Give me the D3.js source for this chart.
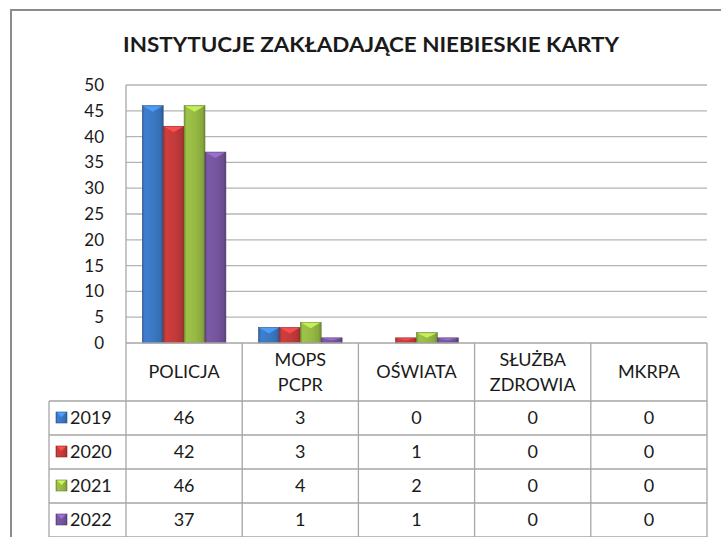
<!DOCTYPE html>
<html>
<head>
<meta charset="utf-8">
<script src="https://cdn.jsdelivr.net/npm/d3@7"></script>
<style>
  body { margin: 0; background: #fff; }
  svg { display: block; }
  text { font-family: Lato, "Open Sans", sans-serif; fill: #1a1a1a; }
</style>
</head>
<body>
<div id="chart"></div>
<script>
// data
const title = "INSTYTUCJE ZAKŁADAJĄCE NIEBIESKIE KARTY";
const categories = ["POLICJA", "MOPS\nPCPR", "OŚWIATA", "SŁUŻBA\nZDROWIA", "MKRPA"];
const years = ["2019", "2020", "2021", "2022"];
const v2019 = [46, 3, 0, 0, 0];
const v2020 = [42, 3, 1, 0, 0];
const v2021 = [46, 4, 2, 0, 0];
const v2022 = [37, 1, 1, 0, 0];
const yTicks = [0, 5, 10, 15, 20, 25, 30, 35, 40, 45, 50];

const series = [v2019, v2020, v2021, v2022];
const colors = ["#3b78c3", "#c33b3a", "#97b944", "#76559e"];

const width = 721, height = 537;
const plot = {left: 126, right: 707, top: 85, bottom: 343};
const tableLeft = 49;
const headerH = 58, rowH = 34;

let svg = d3.select("#chart")
    .append("svg")
    .attr("width", width)
    .attr("height", height);

// gradients for the bevelled bars
let defs = svg.append("defs");
colors.forEach(function(c, i) {
    let base = d3.color(c);
    let g = defs.append("linearGradient").attr("id", "grad" + i)
        .attr("x1", 0).attr("x2", 1).attr("y1", 0).attr("y2", 0);
    g.append("stop").attr("offset", "0%").attr("stop-color", base.darker(0.6));
    g.append("stop").attr("offset", "12%").attr("stop-color", base.brighter(0.15));
    g.append("stop").attr("offset", "55%").attr("stop-color", base);
    g.append("stop").attr("offset", "88%").attr("stop-color", base.darker(0.3));
    g.append("stop").attr("offset", "100%").attr("stop-color", base.darker(0.9));
});

// outer frame
svg.append("path")
    .attr("d", `M11,${height} L11,10 L${width},10`)
    .attr("fill", "none")
    .attr("stroke", "#8c8c8c")
    .attr("stroke-width", 2);

svg.append("text")
    .attr("x", 371)
    .attr("y", 52)
    .attr("text-anchor", "middle")
    .attr("textLength", 496)
    .attr("lengthAdjust", "spacingAndGlyphs")
    .style("font-size", "21px")
    .style("font-weight", "bold")
    .text(title);

let x = d3.scaleBand()
    .domain(categories)
    .range([plot.left, plot.right]);

let xYear = d3.scaleBand()
    .domain(years)
    .range([0, x.bandwidth()])
    .paddingInner(0)
    .paddingOuter(0.78);

let y = d3.scaleLinear()
    .domain([0, 50])
    .range([plot.bottom, plot.top]);

// gridlines
svg.append("g").selectAll("line")
    .data(yTicks.filter(function(d) { return d > 0; }))
    .join("line")
    .attr("x1", plot.left).attr("x2", plot.right)
    .attr("y1", function(d) { return y(d); })
    .attr("y2", function(d) { return y(d); })
    .attr("stroke", "#b4b4b4")
    .attr("stroke-width", 1.3);

// y labels
svg.append("g").selectAll("text")
    .data(yTicks)
    .join("text")
    .attr("x", 104)
    .attr("y", function(d) { return y(d) + 6; })
    .attr("text-anchor", "end")
    .style("font-size", "17px")
    .text(function(d) { return d; });

// bars
let barData = [];
series.forEach(function(vals, si) {
    vals.forEach(function(v, ci) {
        if (v > 0) barData.push({cat: categories[ci], year: years[si], value: v, s: si});
    });
});

let bars = svg.append("g").selectAll("g")
    .data(barData)
    .join("g");

bars.append("rect")
    .attr("x", function(d) { return x(d.cat) + xYear(d.year); })
    .attr("y", function(d) { return y(d.value); })
    .attr("width", xYear.bandwidth())
    .attr("height", function(d) { return y(0) - y(d.value); })
    .attr("fill", function(d) { return "url(#grad" + d.s + ")"; })
    .attr("stroke", function(d) { return d3.color(colors[d.s]).darker(1); })
    .attr("stroke-width", 0.6);

// light chevron on top of each bar
bars.append("path")
    .attr("d", function(d) {
        let x0 = x(d.cat) + xYear(d.year), w = xYear.bandwidth();
        let y0 = y(d.value);
        let h = Math.min(6, (y(0) - y0) / 2);
        return `M${x0 + 1},${y0 + 0.5} L${x0 + w - 1},${y0 + 0.5} L${x0 + w / 2},${y0 + h} Z`;
    })
    .attr("fill", function(d) { return d3.color(colors[d.s]).brighter(0.8); })
    .attr("opacity", 0.9);

// axis line
svg.append("line")
    .attr("x1", plot.left).attr("x2", plot.right)
    .attr("y1", plot.bottom).attr("y2", plot.bottom)
    .attr("stroke", "#a6a6a6").attr("stroke-width", 1.3);

// data table
let table = svg.append("g");
let tableBottom = plot.bottom + headerH + rowH * years.length;
let lineColor = "#a6a6a6";

// vertical lines
let colEdges = categories.map(function(c) { return x(c); }).concat([plot.right]);
table.selectAll("line.v")
    .data(colEdges)
    .join("line")
    .attr("class", "v")
    .attr("x1", function(d) { return d; }).attr("x2", function(d) { return d; })
    .attr("y1", function(d, i) { return i === 0 ? plot.top : plot.bottom; })
    .attr("y2", tableBottom + 2)
    .attr("stroke", lineColor).attr("stroke-width", 1.3);

table.append("line")
    .attr("x1", tableLeft).attr("x2", tableLeft)
    .attr("y1", plot.bottom + headerH).attr("y2", tableBottom + 2)
    .attr("stroke", lineColor).attr("stroke-width", 1.3);

// horizontal lines
table.selectAll("line.h")
    .data(d3.range(years.length + 1))
    .join("line")
    .attr("class", "h")
    .attr("x1", tableLeft).attr("x2", plot.right)
    .attr("y1", function(i) { return plot.bottom + headerH + i * rowH; })
    .attr("y2", function(i) { return plot.bottom + headerH + i * rowH; })
    .attr("stroke", lineColor).attr("stroke-width", 1.3);

// header labels
table.selectAll("text.head")
    .data(categories)
    .join("text")
    .attr("class", "head")
    .attr("x", function(d) { return x(d) + x.bandwidth() / 2; })
    .attr("text-anchor", "middle")
    .style("font-size", "18px")
    .each(function(d) {
        let lines = d.split("\n");
        let t = d3.select(this);
        let cy = plot.bottom + headerH / 2;
        lines.forEach(function(l, i) {
            t.append("tspan")
                .attr("x", x(d) + x.bandwidth() / 2)
                .attr("y", cy + 6 + (i - (lines.length - 1) / 2) * 25)
                .text(l);
        });
    });

// rows
years.forEach(function(yr, si) {
    let rowTop = plot.bottom + headerH + si * rowH;
    let base = d3.color(colors[si]);
    table.append("rect")
        .attr("x", 56).attr("y", rowTop + rowH / 2 - 6)
        .attr("width", 11).attr("height", 11)
        .attr("fill", "url(#grad" + si + ")")
        .attr("stroke", base.darker(1)).attr("stroke-width", 0.6);
    table.append("path")
        .attr("d", `M57,${rowTop + rowH / 2 - 5.5} L66,${rowTop + rowH / 2 - 5.5} L61.5,${rowTop + rowH / 2 - 1} Z`)
        .attr("fill", base.brighter(0.8));
    table.append("text")
        .attr("x", 70)
        .attr("y", rowTop + rowH / 2 + 6)
        .style("font-size", "18px")
        .text(yr);
    table.selectAll("text.val" + si)
        .data(series[si])
        .join("text")
        .attr("class", "val" + si)
        .attr("x", function(d, ci) { return x(categories[ci]) + x.bandwidth() / 2; })
        .attr("y", rowTop + rowH / 2 + 6)
        .attr("text-anchor", "middle")
        .style("font-size", "18px")
        .text(function(d) { return d; });
});
</script>
</body>
</html>
